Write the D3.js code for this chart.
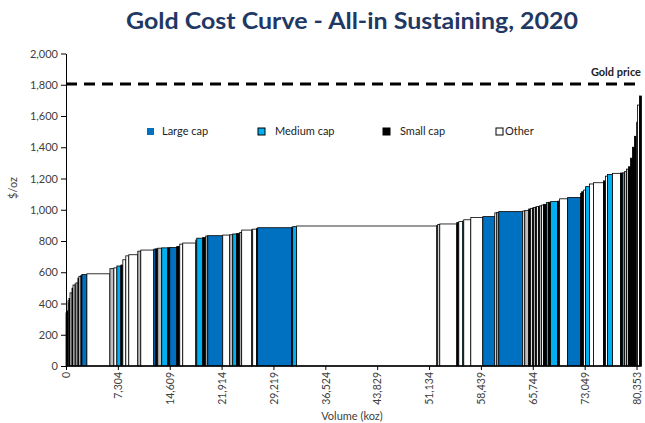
<!DOCTYPE html>
<meta charset="utf-8">
<style>
  body { margin: 0; background: #fff; }
  text { font-family: Lato, "Open Sans", sans-serif; }
</style>

<svg width="645" height="423"></svg>

<script src="https://d3js.org/d3.v7.min.js"></script>
<script>
// volume (koz) of each producer, sorted by AISC, left to right
var volumes = [
  140, 150, 130, 145, 280, 140, 290, 135, 270, 140, 285, 140, 700, 3240, 560, 420,
  560, 280, 420, 420, 1270, 420, 1830, 280, 280, 560, 850, 280, 990, 420, 420, 1830,
  140, 850, 420, 280, 2110, 990, 420, 560, 420, 280, 1410, 140, 560, 140, 4790, 140,
  560, 19740, 140, 280, 2400, 280, 560, 140, 990, 1690, 1690, 280, 280, 3380, 280, 560,
  280, 280, 140, 280, 140, 280, 140, 280, 280, 420, 280, 280, 990, 280, 1130, 1830,
  140, 280, 280, 560, 560, 1410, 280, 280, 700, 1130, 280, 280, 280, 280, 280, 280,
  280, 280, 140, 280, 280
]

// all-in sustaining cost ($/oz)
var costs = [
  340, 352, 418, 432, 468, 498, 518, 525, 532, 563, 574, 580, 585, 590, 623, 628,
  640, 646, 680, 705, 712, 735, 742, 748, 750, 754, 756, 757, 758, 765, 780, 787,
  806, 818, 822, 832, 834, 838, 840, 845, 848, 855, 870, 872, 876, 880, 885, 888,
  892, 896, 900, 905, 909, 918, 924, 928, 936, 950, 956, 980, 982, 988, 992, 996,
  1005, 1009, 1012, 1015, 1018, 1020, 1022, 1025, 1030, 1035, 1047, 1048, 1052, 1055, 1070, 1078,
  1105, 1115, 1126, 1148, 1165, 1173, 1185, 1215, 1225, 1233, 1235, 1236, 1244, 1260, 1275, 1330,
  1400, 1470, 1560, 1670, 1728
]

// L = large cap, M = medium cap, S = small cap, O = other, G = grey (unlabelled)
var caps = [
  "S","S","G","S","O","S","O","G","O","S","O","S","L","O","G","O",
  "M","S","O","O","O","G","O","L","S","G","M","S","L","S","O","O",
  "O","M","S","G","L","O","G","M","S","G","O","O","O","S","L","S",
  "M","O","G","O","O","S","O","M","O","O","L","O","G","L","O","G",
  "S","O","S","G","S","O","S","G","O","S","M","S","M","S","O","L",
  "S","S","O","M","O","O","S","O","M","O","S","M","G","G","S","S",
  "S","S","O","O","S"
]

var goldPrice = 1805

var yTicks = [0, 200, 400, 600, 800, 1000, 1200, 1400, 1600, 1800, 2000]
var xTicks = [0, 7304, 14609, 21914, 29219, 36524, 43829, 51134, 58439, 65744, 73049, 80353]

var legendKeys = ["L", "M", "S", "O"]
var legendLabels = ["Large cap", "Medium cap", "Small cap", "Other"]

var colors = { L: "#0070C0", M: "#00B0F0", S: "#000000", O: "#ffffff", G: "#BFBFBF" }

var svg = d3.select("svg")

var x = d3.scaleLinear().domain([0, 80353]).range([66, 636.5])
var y = d3.scaleLinear().domain([0, 2000]).range([366, 53.5])

// start of each bar = running total of volumes before it
var ends = Array.from(d3.cumsum(volumes))
var bars = volumes.map(function (v, i) {
  return { x0: ends[i] - v, x1: ends[i], cost: costs[i], cap: caps[i] }
})

// title
svg.append("text")
  .attr("x", 352).attr("y", 29)
  .attr("text-anchor", "middle")
  .attr("font-size", 23).attr("font-weight", "bold")
  .attr("fill", "#1F3864")
  .attr("textLength", 452).attr("lengthAdjust", "spacingAndGlyphs")
  .text("Gold Cost Curve - All-in Sustaining, 2020")

// bars
svg.append("g")
  .selectAll("rect")
  .data(bars)
  .enter().append("rect")
  .attr("x", function (d) { return x(d.x0) })
  .attr("width", function (d) { return x(d.x1) - x(d.x0) })
  .attr("y", function (d) { return y(d.cost) })
  .attr("height", function (d) { return y(0) - y(d.cost) })
  .attr("fill", function (d) { return colors[d.cap] })
  .attr("stroke", "#000")
  .attr("stroke-width", 0.8)

// y axis
var yAxis = svg.append("g")
  .attr("transform", "translate(66,0)")
  .call(d3.axisLeft(y).tickValues(yTicks).tickFormat(d3.format(",")).tickSize(5).tickSizeOuter(0))
yAxis.selectAll("text").attr("font-size", 11).attr("fill", "#404040").attr("x", -8)
yAxis.select(".domain").attr("stroke", "#000")
yAxis.selectAll(".tick line").attr("stroke", "#000")

// x axis
var xAxis = svg.append("g")
  .attr("transform", "translate(0,366)")
  .call(d3.axisBottom(x).tickValues(xTicks).tickFormat(d3.format(",")).tickSize(4).tickSizeOuter(0))
xAxis.select(".domain").remove()
xAxis.selectAll(".tick line").attr("stroke", "#000")
xAxis.selectAll("text")
  .attr("font-size", 10.5).attr("fill", "#404040")
  .attr("transform", "rotate(-90)")
  .attr("x", -6).attr("y", 0).attr("dy", "0.35em")
  .style("text-anchor", "end")

svg.append("line")
  .attr("x1", 66).attr("x2", x(ends[ends.length - 1]))
  .attr("y1", y(0)).attr("y2", y(0))
  .attr("stroke", "#000").attr("stroke-width", 1.5)

// gold price line
svg.append("line")
  .attr("x1", 66).attr("x2", 641)
  .attr("y1", y(goldPrice)).attr("y2", y(goldPrice))
  .attr("stroke", "#000").attr("stroke-width", 3)
  .attr("stroke-dasharray", "11,7")

svg.append("text")
  .attr("x", 641).attr("y", y(goldPrice) - 8)
  .attr("text-anchor", "end")
  .attr("font-size", 11).attr("font-weight", "bold").attr("fill", "#222")
  .text("Gold price")

// axis titles
svg.append("text")
  .attr("transform", "translate(17,188) rotate(-90)")
  .attr("text-anchor", "middle")
  .attr("font-size", 11).attr("fill", "#404040")
  .text("$/oz")

svg.append("text")
  .attr("x", 352).attr("y", 420)
  .attr("text-anchor", "middle")
  .attr("font-size", 11).attr("fill", "#404040")
  .text("Volume (koz)")

// legend
var legendX = [147, 258, 383, 496]
var legend = svg.append("g")
  .selectAll("g")
  .data(legendKeys)
  .enter().append("g")
  .attr("transform", function (d, i) { return "translate(" + legendX[i] + ",128)" })

legend.append("rect")
  .attr("width", 7).attr("height", 7)
  .attr("fill", function (d) { return colors[d] })
  .attr("stroke", function (d) { return d === "L" ? "none" : "#000" })
  .attr("stroke-width", 1)

legend.append("text")
  .attr("x", function (d, i) { return i === 3 ? 9 : (i === 0 ? 15 : 17) })
  .attr("y", 7)
  .attr("font-size", 11).attr("fill", "#222")
  .text(function (d, i) { return legendLabels[i] })
</script>
